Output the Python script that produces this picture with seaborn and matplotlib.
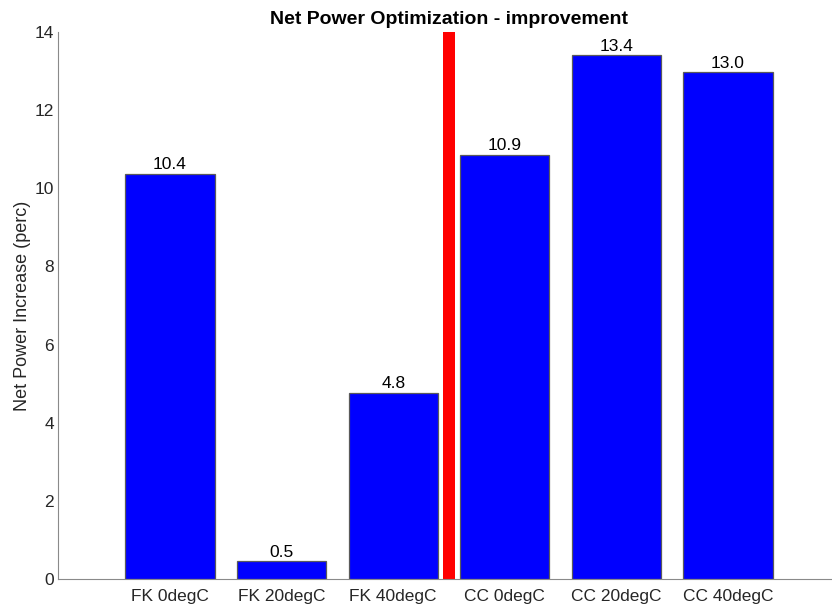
import matplotlib
matplotlib.use("Agg")
import matplotlib.pyplot as plt
import seaborn as sns

# Net power gain per configuration
categories = ["FK 0degC", "FK 20degC", "FK 40degC", "CC 0degC", "CC 20degC", "CC 40degC"]
values = [10.37, 0.46, 4.77, 10.86, 13.41, 12.97]
y_ticks = [0, 2, 4, 6, 8, 10, 12, 14]

# Red divider between the FK and CC groups
divider_pos = [2.5]
divider_height = [14]

sns.set_theme(style="white")
plt.rcParams["font.family"] = ["Liberation Sans", "DejaVu Sans"]

axis_grey = "#8a8a8a"
text_col = "#262626"

fig = plt.figure(figsize=(8.32, 6.10), dpi=100)
ax = fig.add_axes([58.4 / 832, 31 / 610, 781.2 / 832, 547 / 610])

sns.barplot(x=categories, y=values, color="blue", saturation=1, width=0.8,
            edgecolor="#5a5a5a", linewidth=0.9, ax=ax)
ax.bar(divider_pos, divider_height, width=0.1, color="red", edgecolor="none")

for cont in ax.containers[:1]:
    ax.bar_label(cont, fmt="%.1f", padding=1, fontsize=12.5, color="black")

ax.set_xlim(-1, 6)
ax.set_ylim(0, 14)
ax.set_yticks(y_ticks)

ax.set_title("Net Power Optimization - improvement", fontsize=14,
             fontweight="bold", color="black", pad=6)
ax.set_ylabel("Net Power Increase (perc)", fontsize=13, color=text_col, labelpad=3)
ax.set_xlabel("")

for side in ["top", "right"]:
    ax.spines[side].set_visible(False)
for side in ["left", "bottom"]:
    ax.spines[side].set_color(axis_grey)
    ax.spines[side].set_linewidth(0.8)

ax.tick_params(axis="both", direction="in", length=6, width=0.8,
               color=axis_grey, labelsize=12.5, labelcolor=text_col)
ax.tick_params(axis="x", pad=7)
ax.tick_params(axis="y", pad=3)

fig.savefig("out.png", dpi=100)
